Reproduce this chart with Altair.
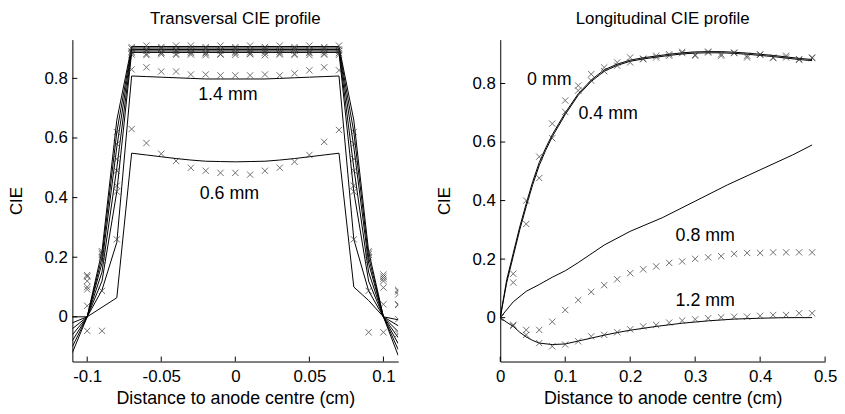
import altair as alt
import pandas as pd

FONT = "Liberation Sans"

# ---------------- Left panel: transversal profile ----------------
tx_line = [-0.11, -0.10, -0.09, -0.08, -0.07, -0.06, -0.05, -0.04, -0.03, -0.02, -0.01, 0.0,
           0.01, 0.02, 0.03, 0.04, 0.05, 0.06, 0.07, 0.08, 0.09, 0.10, 0.11]
t_line_1 = [0.0, 0.0, 0.22, 0.66, 0.907, 0.907, 0.907, 0.907, 0.907, 0.907, 0.907, 0.907,
            0.907, 0.907, 0.907, 0.907, 0.907, 0.907, 0.907, 0.66, 0.22, 0.0, -0.01]
t_line_2 = [-0.02, 0.0, 0.20, 0.62, 0.902, 0.902, 0.902, 0.902, 0.902, 0.902, 0.902, 0.902,
            0.902, 0.902, 0.902, 0.902, 0.902, 0.902, 0.902, 0.62, 0.20, 0.0, -0.03]
t_line_3 = [-0.04, 0.0, 0.18, 0.57, 0.897, 0.897, 0.897, 0.897, 0.897, 0.897, 0.897, 0.897,
            0.897, 0.897, 0.897, 0.897, 0.897, 0.897, 0.897, 0.57, 0.18, 0.0, -0.05]
t_line_4 = [-0.06, 0.0, 0.15, 0.50, 0.892, 0.892, 0.892, 0.892, 0.892, 0.892, 0.892, 0.892,
            0.892, 0.892, 0.892, 0.892, 0.892, 0.892, 0.892, 0.50, 0.15, 0.0, -0.07]
t_line_5 = [-0.08, 0.0, 0.12, 0.42, 0.887, 0.887, 0.887, 0.887, 0.887, 0.887, 0.887, 0.887,
            0.887, 0.887, 0.887, 0.887, 0.887, 0.887, 0.887, 0.42, 0.12, 0.0, -0.09]
t_line_14 = [-0.10, 0.0, 0.09, 0.25, 0.808, 0.806, 0.804, 0.802, 0.800, 0.798, 0.798, 0.798,
             0.798, 0.798, 0.800, 0.802, 0.804, 0.806, 0.808, 0.26, 0.087, 0.0, -0.11]
t_line_06 = [-0.12, 0.0, 0.032, 0.064, 0.549, 0.543, 0.537, 0.531, 0.526, 0.522, 0.521, 0.520,
             0.521, 0.522, 0.526, 0.531, 0.537, 0.543, 0.549, 0.10, 0.055, 0.0, -0.13]

tx_meas = [-0.10, -0.09, -0.08, -0.07, -0.06, -0.05, -0.04, -0.03, -0.02, -0.01, 0.0,
           0.01, 0.02, 0.03, 0.04, 0.05, 0.06, 0.07, 0.08, 0.09, 0.10, 0.11]
t_meas_1 = [0.14, 0.22, 0.62, 0.905, 0.91, 0.905, 0.91, 0.91, 0.905, 0.91, 0.905, 0.91, 0.905,
            0.91, 0.905, 0.91, 0.905, 0.91, 0.62, 0.22, 0.142, 0.09]
t_meas_2 = [0.135, 0.215, 0.58, 0.90, 0.897, 0.90, 0.895, 0.90, 0.90, 0.897, 0.90, 0.895, 0.90,
            0.897, 0.90, 0.895, 0.90, 0.897, 0.58, 0.215, 0.135, 0.085]
t_meas_3 = [0.12, 0.21, 0.53, 0.89, 0.893, 0.888, 0.892, 0.89, 0.888, 0.892, 0.89, 0.888, 0.892,
            0.89, 0.893, 0.888, 0.89, 0.892, 0.53, 0.21, 0.128, 0.075]
t_meas_4 = [0.10, 0.20, 0.49, 0.885, 0.882, 0.886, 0.883, 0.885, 0.884, 0.882, 0.885, 0.883,
            0.886, 0.884, 0.882, 0.885, 0.883, 0.885, 0.49, 0.20, 0.12, 0.042]
t_meas_5 = [0.092, 0.19, 0.44, 0.88, 0.878, 0.881, 0.879, 0.88, 0.878, 0.88, 0.879, 0.881,
            0.878, 0.88, 0.879, 0.878, 0.88, 0.879, 0.44, 0.19, 0.098, 0.04]
t_meas_14 = [0.037, 0.087, 0.26, 0.83, 0.837, 0.823, 0.823, 0.813, 0.813, 0.81, 0.81, 0.81,
             0.813, 0.81, 0.817, 0.827, 0.837, 0.827, 0.26, 0.087, 0.042, -0.008]
t_meas_06 = [-0.047, -0.047, 0.42, 0.63, 0.583, 0.547, 0.523, 0.50, 0.49, 0.483, 0.483, 0.477,
             0.49, 0.50, 0.52, 0.543, 0.587, 0.627, 0.42, -0.052, -0.052, -0.057]

t_label_text = ["1.4 mm", "0.6 mm"]
t_label_x = [-0.005, -0.004]
t_label_y = [0.743, 0.412]

t_xticks = [-0.1, -0.05, 0, 0.05, 0.1]
t_yticks = [0, 0.2, 0.4, 0.6, 0.8]

# ---------------- Right panel: longitudinal profile ----------------
lx_top = [0, 0.01, 0.02, 0.03, 0.04, 0.05, 0.06, 0.07, 0.08, 0.10, 0.12, 0.14, 0.16, 0.18, 0.20,
          0.22, 0.24, 0.26, 0.28, 0.30, 0.32, 0.34, 0.36, 0.38, 0.40, 0.42, 0.44, 0.46, 0.48]
l_line_0 = [0, 0.13, 0.22, 0.31, 0.39, 0.465, 0.53, 0.58, 0.625, 0.70, 0.765, 0.812, 0.847, 0.866,
            0.88, 0.888, 0.894, 0.90, 0.905, 0.908, 0.909, 0.909, 0.907, 0.904, 0.90, 0.896, 0.891,
            0.886, 0.882]
l_line_04 = [0, 0.12, 0.21, 0.30, 0.38, 0.455, 0.52, 0.572, 0.618, 0.694, 0.76, 0.807, 0.842, 0.862,
             0.876, 0.884, 0.89, 0.896, 0.901, 0.904, 0.905, 0.905, 0.903, 0.90, 0.896, 0.892, 0.887,
             0.882, 0.878]
lx_mid = [0, 0.02, 0.04, 0.06, 0.08, 0.10, 0.12, 0.16, 0.20, 0.25, 0.30, 0.35, 0.40, 0.45, 0.48]
l_line_mid = [0, 0.054, 0.09, 0.113, 0.138, 0.16, 0.188, 0.248, 0.295, 0.342, 0.398, 0.454, 0.505,
              0.556, 0.59]
lx_low = [0, 0.01, 0.02, 0.03, 0.04, 0.05, 0.06, 0.08, 0.10, 0.12, 0.14, 0.16, 0.18, 0.20, 0.24,
          0.28, 0.32, 0.36, 0.40, 0.44, 0.48]
l_line_12 = [0, -0.016, -0.03, -0.05, -0.066, -0.078, -0.087, -0.092, -0.09, -0.08, -0.07, -0.06,
             -0.051, -0.043, -0.03, -0.019, -0.011, -0.005, -0.002, 0.0, 0.0]

lx_meas = [0, 0.02, 0.04, 0.06, 0.08, 0.10, 0.12, 0.14, 0.16, 0.18, 0.20, 0.22, 0.24, 0.26, 0.28,
           0.30, 0.32, 0.34, 0.36, 0.38, 0.40, 0.42, 0.44, 0.46, 0.48]
l_meas_0 = [0, 0.15, 0.40, 0.55, 0.663, 0.742, 0.793, 0.832, 0.855, 0.872, 0.889, 0.885, 0.895,
            0.90, 0.908, 0.898, 0.909, 0.90, 0.906, 0.895, 0.90, 0.889, 0.895, 0.883, 0.889]
l_meas_04 = [0, 0.12, 0.32, 0.477, 0.613, 0.703, 0.776, 0.81, 0.842, 0.861, 0.872, 0.883, 0.889,
             0.895, 0.904, 0.895, 0.906, 0.895, 0.904, 0.889, 0.898, 0.887, 0.889, 0.881, 0.887]
l_meas_08 = [0, -0.025, -0.042, -0.042, -0.014, 0.026, 0.06, 0.088, 0.111, 0.131, 0.152, 0.165,
             0.175, 0.187, 0.192, 0.201, 0.206, 0.21, 0.218, 0.221, 0.221, 0.223, 0.223, 0.223, 0.223]
l_meas_12 = [0, -0.028, -0.059, -0.087, -0.098, -0.092, -0.081, -0.064, -0.059, -0.05, -0.04,
             -0.03, -0.025, -0.017, -0.01, -0.006, -0.002, 0.001, 0.003, 0.003, 0.006, 0.009,
             0.009, 0.015, 0.015]

l_label_text = ["0 mm", "0.4 mm", "0.8 mm", "1.2 mm"]
l_label_x = [0.0755, 0.166, 0.3155, 0.3155]
l_label_y = [0.813, 0.695, 0.2775, 0.0575]

l_xticks = [0, 0.1, 0.2, 0.3, 0.4, 0.5]
l_yticks = [0, 0.2, 0.4, 0.6, 0.8]

# ---------------- build ----------------
W_L, W_R, H = 329, 328, 325
CROSS = "M-1,-1L1,1M-1,1L1,-1"


def long_df(xs, series):
    rows = []
    for name, ys in series:
        for x, y in zip(xs, ys):
            rows.append({"x": x, "y": y, "s": name})
    return pd.DataFrame(rows)


def panel(lines_df, meas_df, labels_df, xdom, ydom, xticks, yticks, width, title, xtitle):
    xs = alt.Scale(domain=xdom, nice=False, zero=False)
    ys = alt.Scale(domain=ydom, nice=False, zero=False)
    xaxis = alt.Axis(values=xticks, labelExpr="'' + datum.value", title=xtitle, tickSize=0,
                     labelPadding=7, titlePadding=5, titleFontSize=18, grid=False,
                     domainColor="black", labelFlush=False)
    yaxis = alt.Axis(values=yticks, labelExpr="'' + datum.value", title="CIE", tickSize=0,
                     labelPadding=5, titlePadding=15, grid=False, domainColor="black",
                     minExtent=32, maxExtent=32)
    lines = alt.Chart(lines_df).mark_line(color="black", strokeWidth=1, clip=True).encode(
        x=alt.X("x:Q", scale=xs, axis=xaxis),
        y=alt.Y("y:Q", scale=ys, axis=yaxis),
        detail="s:N",
        order="x:Q",
    )
    crosses = alt.Chart(meas_df).mark_point(shape=CROSS, filled=False, color="#333333",
                                            strokeWidth=1, size=40, clip=True).encode(
        x=alt.X("x:Q", scale=xs), y=alt.Y("y:Q", scale=ys))
    texts = alt.Chart(labels_df).mark_text(font=FONT, fontSize=18, color="black",
                                           align="center", baseline="middle").encode(
        x=alt.X("x:Q", scale=xs), y=alt.Y("y:Q", scale=ys), text="t:N")
    ytk = alt.Chart(pd.DataFrame({"v": yticks})).mark_rule(color="black", strokeWidth=1).encode(
        y=alt.Y("v:Q", scale=ys), x=alt.value(0), x2=alt.value(5))
    xtk = alt.Chart(pd.DataFrame({"v": xticks})).mark_rule(color="black", strokeWidth=1).encode(
        x=alt.X("v:Q", scale=xs), y=alt.value(H), y2=alt.value(H - 5))
    return alt.layer(lines, crosses, texts, ytk, xtk).properties(
        width=width, height=H, title=title)


left_lines = long_df(tx_line, [("a", t_line_1), ("b", t_line_2), ("c", t_line_3),
                               ("d", t_line_4), ("e", t_line_5), ("f", t_line_14),
                               ("g", t_line_06)])
left_meas = long_df(tx_meas, [("a", t_meas_1), ("b", t_meas_2), ("c", t_meas_3),
                              ("d", t_meas_4), ("e", t_meas_5), ("f", t_meas_14),
                              ("g", t_meas_06)])
left_labels = pd.DataFrame({"t": t_label_text, "x": t_label_x, "y": t_label_y})

right_lines = pd.concat([
    long_df(lx_top, [("a", l_line_0), ("b", l_line_04)]),
    long_df(lx_mid, [("c", l_line_mid)]),
    long_df(lx_low, [("d", l_line_12)]),
], ignore_index=True)
right_meas = long_df(lx_meas, [("a", l_meas_0), ("b", l_meas_04), ("c", l_meas_08),
                               ("d", l_meas_12)])
right_labels = pd.DataFrame({"t": l_label_text, "x": l_label_x, "y": l_label_y})

left = panel(left_lines, left_meas, left_labels, [-0.11, 0.11], [-0.15, 0.93], t_xticks,
             t_yticks, W_L, "Transversal CIE profile", "Distance to anode centre (cm)")
right = panel(right_lines, right_meas, right_labels, [0, 0.5], [-0.15, 0.95], l_xticks,
              l_yticks, W_R, "Longitudinal CIE profile", "Distance to anode centre (cm)")

chart = alt.hconcat(left, right, spacing=38).properties(
    padding={"left": 0, "top": 0, "right": 0, "bottom": 0}, background="white"
).configure_view(stroke=None).configure_axis(
    labelFont=FONT, titleFont=FONT, labelFontSize=17, titleFontSize=17,
    titleFontWeight="normal", labelColor="black", titleColor="black",
    domainColor="black", domainWidth=1, grid=False
).configure_title(
    font=FONT, fontSize=17, fontWeight="normal", color="black", anchor="middle",
    frame="group", offset=12
)

chart.save("out.html", embed_options={"renderer": "svg", "actions": False})
